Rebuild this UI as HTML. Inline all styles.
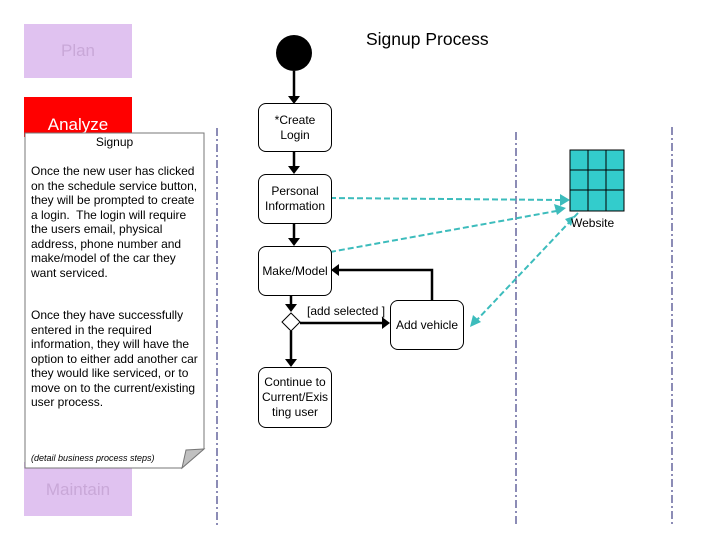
<!DOCTYPE html>
<html><head><style>
body{margin:0;width:720px;height:540px;background:#fff;position:relative;overflow:hidden;font-family:"Liberation Sans",sans-serif}
.a{position:absolute}
.node{position:absolute;border:1px solid #000;border-radius:8px;background:#fff;font-size:12px;display:flex;align-items:center;justify-content:center;text-align:center;line-height:15px}
.t{white-space:nowrap}
</style></head><body>
<div class="a" style="left:24px;top:24px;width:108px;height:54px;background:#e0c2f0;color:#c9a8d8;font-size:17px;text-align:center;line-height:54px">Plan</div>
<div class="a" style="left:24px;top:97px;width:108px;height:40px;background:#f00;color:#fff;font-size:17px;text-align:center;line-height:56px">Analyze</div>
<div class="a" style="left:24px;top:462px;width:108px;height:54px;background:#e0c2f0;color:#c9a8d8;font-size:17px;text-align:center;line-height:56px">Maintain</div>
<svg class="a" style="left:0;top:0" width="720" height="540">
<path d="M25,133 H204 V449 L182,468 H25 Z" fill="#fff" stroke="#777"/>
<path d="M182,468 L186,450 L204,449 Z" fill="#c0c0c0" stroke="#777"/>
<g stroke="#1a1a6e" stroke-dasharray="8,3,2,3" stroke-width="1">
<line x1="217" y1="128" x2="217" y2="525"/>
<line x1="516" y1="132" x2="516" y2="525"/>
<line x1="672" y1="127" x2="672" y2="525"/>
</g>
<circle cx="294" cy="53" r="18" fill="#000"/>
<g stroke="#000" stroke-width="2.5" fill="none">
<line x1="294" y1="71" x2="294" y2="96"/>
<line x1="294" y1="150" x2="294" y2="167"/>
<line x1="294" y1="222" x2="294" y2="239"/>
<line x1="291" y1="294" x2="291" y2="307"/>
<line x1="291" y1="331" x2="291" y2="360"/>
<line x1="300" y1="323" x2="382" y2="323"/>
<polyline points="432,300 432,270 338,270"/>
</g>
<g fill="#000">
<polygon points="288,96 300,96 294,104"/>
<polygon points="288,166 300,166 294,174"/>
<polygon points="288,238 300,238 294,246"/>
<polygon points="285,304 297,304 291,312"/>
<polygon points="285,359 297,359 291,367"/>
<polygon points="382,317 382,329 390,323"/>
<polygon points="339,264 339,276 331,270"/>
</g>
<polygon points="291,313 300,322 291,331 282,322" fill="#fff" stroke="#000"/>
<rect x="570" y="150" width="54" height="61" fill="#33cccc" stroke="#000"/>
<g stroke="#000"><line x1="588" y1="150" x2="588" y2="211"/><line x1="606" y1="150" x2="606" y2="211"/><line x1="570" y1="170" x2="624" y2="170"/><line x1="570" y1="190" x2="624" y2="190"/></g>
<g stroke="#3cbcbc" stroke-width="2" stroke-dasharray="6,3" fill="none">
<line x1="330" y1="198" x2="562" y2="200"/>
<line x1="330" y1="252" x2="562" y2="210"/>
<line x1="578" y1="213" x2="475" y2="322"/>
</g>
<g fill="#3cbcbc">
<polygon points="570,200 560,194 560,206"/>
<polygon points="566,208 554,204 557,215"/>
<polygon points="470,327 473,315 481,322"/>
<polygon points="574,216 565,219 571,226"/>
</g>
</svg>
<div class="a" style="left:25px;top:135px;width:179px;text-align:center;font-size:12px">Signup</div>
<div class="a t" style="left:31px;top:164px;font-size:12px;line-height:14.5px">Once the new user has clicked<br>on the schedule service button,<br>they will be prompted to create<br>a login.&nbsp; The login will require<br>the users email, physical<br>address, phone number and<br>make/model of the car they<br>want serviced.</div>
<div class="a t" style="left:31px;top:308px;font-size:12px;line-height:14.5px">Once they have successfully<br>entered in the required<br>information, they will have the<br>option to either add another car<br>they would like serviced, or to<br>move on to the current/existing<br>user process.</div>
<div class="a" style="left:31px;top:453px;font-size:9px;font-style:italic">(detail business process steps)</div>
<div class="a" style="left:366px;top:29px;font-size:17.5px">Signup Process</div>
<div class="node" style="left:258px;top:103px;width:72px;height:47px">*Create<br>Login</div>
<div class="node" style="left:258px;top:174px;width:72px;height:48px">Personal<br>Information</div>
<div class="node" style="left:258px;top:246px;width:72px;height:48px">Make/Model</div>
<div class="node" style="left:390px;top:300px;width:72px;height:48px">Add vehicle</div>
<div class="node" style="left:258px;top:367px;width:72px;height:59px">Continue to<br>Current/Exis<br>ting user</div>
<div class="a" style="left:307px;top:304px;font-size:12px">[add selected ]</div>
<div class="a" style="left:571px;top:216px;font-size:12px">Website</div>
</body></html>
